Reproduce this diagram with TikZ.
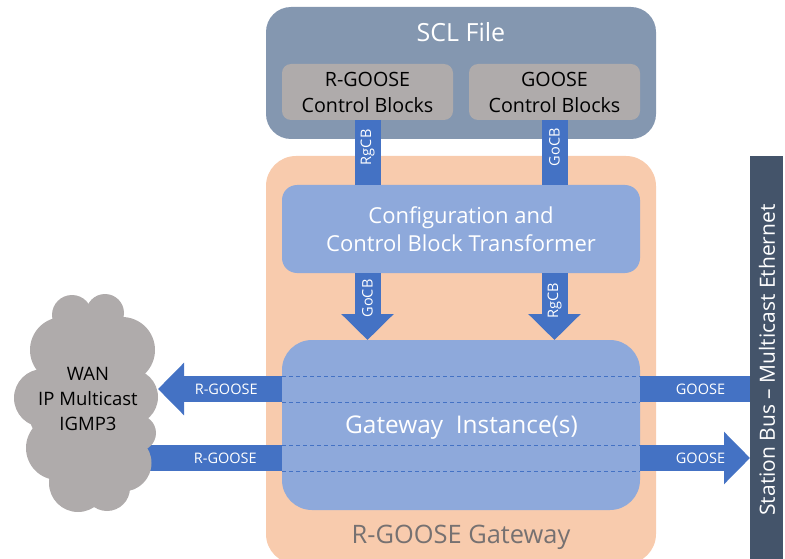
\documentclass[tikz,border=0pt]{standalone}
\usepackage{fontspec}
\setmainfont{Open Sans}
\usetikzlibrary{arrows.meta, positioning}
\definecolor{sclblue}{HTML}{8497B0}
\definecolor{cbgray}{HTML}{AFABAB}
\definecolor{gwpeach}{HTML}{F8CBAD}
\definecolor{gwblue}{HTML}{8EA9DB}
\definecolor{arrowblue}{HTML}{4472C4}
\definecolor{busslate}{HTML}{44546A}
\definecolor{gwtext}{HTML}{767171}
\tikzset{
  blockbox/.style={rounded corners=#1,inner sep=0pt,outer sep=0pt,align=center},
  blockarrow/.style={draw=arrowblue,line width=26pt},
  tipped/.style={-{Triangle[length=26pt 0 0,width=51pt 0]}},
  arrowtext/.style={text=white,font=\fontsize{14.5}{16}\selectfont},
}
\begin{document}
\begin{tikzpicture}[x=1pt,y=-1pt]
\useasboundingbox (0,0) rectangle (785,559);
\clip (0,0) rectangle (785,559);
\node[blockbox=30pt,fill=gwpeach,minimum width=390pt,minimum height=408pt] (gateway) at (461,360) {};
\node[text=gwtext,font=\fontsize{25.4}{28}\selectfont] (gwname) at (461,537) {R-GOOSE Gateway};
\node[blockbox=25pt,fill=sclblue,minimum width=390pt,minimum height=132pt] (scl) at (461,73) {};
\node[text=white,font=\fontsize{25}{28}\selectfont] (sclname) at (461,32) {SCL File};
\foreach \X/\Y/\Z in {rgcb/367.5/R-GOOSE,gocb/554.5/GOOSE}
  {\node[blockbox=9pt,fill=cbgray,minimum width=171pt,minimum height=56pt,text=black,
         font=\fontsize{19.7}{26}\selectfont] (\X) at (\Y,92) {\Z\\Control Blocks};}
\node[blockbox=15pt,fill=gwblue,minimum width=358pt,minimum height=88pt,text=white,
      font=\fontsize{22}{28}\selectfont] (transformer) at (461,229) {Configuration and\\Control Block Transformer};
\node[blockbox=30pt,fill=gwblue,minimum width=358pt,minimum height=170pt] (instance) at (461,425) {};
\node[text=white,font=\fontsize{24.4}{28}\selectfont] (instname) at (461.5,428) {Gateway\ \ Instance(s)};
\node[inner sep=0pt,outer sep=0pt,fill=busslate,minimum width=33pt,minimum height=403pt] (bus) at (766.5,357.5) {};
\node[text=white,rotate=90,font=\fontsize{21}{26}\selectfont] (busname) at (767,360) {Station Bus -- Multicast Ethernet};
% connectors
\draw[blockarrow] (rgcb.south) -- (rgcb.south |- transformer.north)
  node[arrowtext,rotate=90,pos=0.42] {RgCB};
\draw[blockarrow] (gocb.south) -- (gocb.south |- transformer.north)
  node[arrowtext,rotate=90,pos=0.42] {GoCB};
\draw[blockarrow,tipped] (rgcb.south |- transformer.south) -- (rgcb.south |- instance.north)
  node[arrowtext,rotate=90,pos=0.38] {GoCB};
\draw[blockarrow,tipped] (gocb.south |- transformer.south) -- (gocb.south |- instance.north)
  node[arrowtext,rotate=90,pos=0.42] {RgCB};
\coordinate (wanout) at (158,389);
\coordinate (wanin) at (120,458);
\draw[blockarrow,tipped] (instance.west |- wanout) -- (wanout)
  node[arrowtext,pos=0.45] {R-GOOSE};
\draw[blockarrow] (instance.west |- wanin) -- (wanin)
  node[arrowtext,pos=0.35] {R-GOOSE};
\draw[blockarrow] (bus.west |- wanout) -- (instance.east |- wanout)
  node[arrowtext,pos=0.45] {GOOSE};
\draw[blockarrow,tipped] (instance.east |- wanin) -- (bus.west |- wanin)
  node[arrowtext,pos=0.55] {GOOSE};
\foreach \Y in {376,402,445,471}
  {\draw[arrowblue,dashed,line width=0.8pt,dash pattern=on 4pt off 3pt] (instance.west |- 0,\Y) -- (instance.east |- 0,\Y);}
% cloud
\foreach \X/\Y/\R in {72/315/20,105/313/19,122/350/33,63/350/33,88/335/25,43/398/29,130/397/28,
                      138/433/18,58/448/32,123/463/28.5,78/483/29,107/488/23,87/403/60}
  {\fill[cbgray] (\X,\Y) circle[radius=\R];}
\node[text=black,align=center,font=\fontsize{18.5}{25}\selectfont] (wan) at (88,399) {WAN\\IP Multicast\\IGMP3};
\end{tikzpicture}
\end{document}
